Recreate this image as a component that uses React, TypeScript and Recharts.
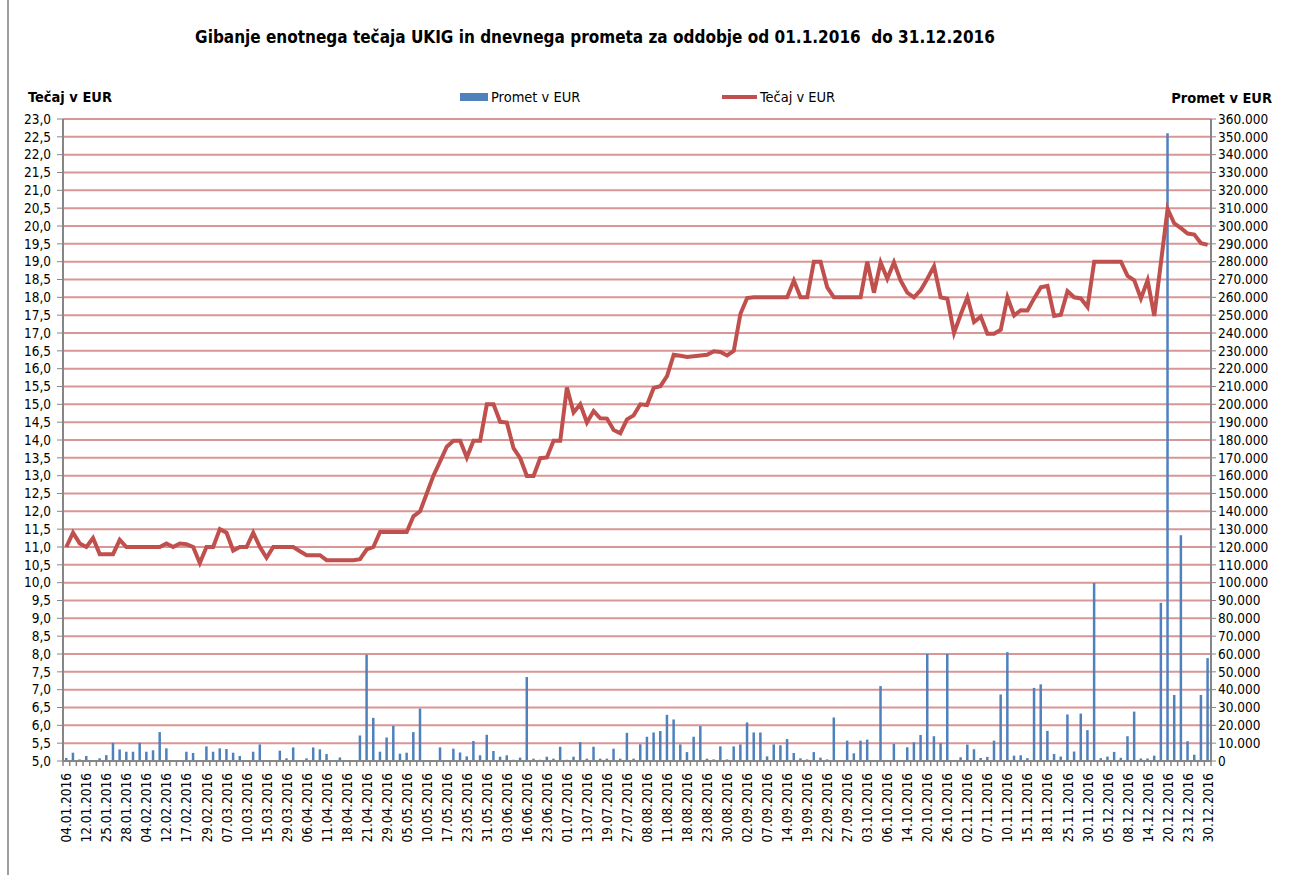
import React from 'react';
import { ComposedChart, Bar, Line, XAxis, YAxis, CartesianGrid } from 'recharts';

// tick labels on the category axis (every third trading day)
const dateLabels = [
  '04.01.2016', '12.01.2016', '25.01.2016', '28.01.2016', '04.02.2016', '12.02.2016',
  '17.02.2016', '29.02.2016', '07.03.2016', '10.03.2016', '15.03.2016', '29.03.2016',
  '06.04.2016', '11.04.2016', '18.04.2016', '21.04.2016', '29.04.2016', '05.05.2016',
  '10.05.2016', '17.05.2016', '23.05.2016', '31.05.2016', '03.06.2016', '16.06.2016',
  '23.06.2016', '01.07.2016', '13.07.2016', '19.07.2016', '27.07.2016', '08.08.2016',
  '11.08.2016', '18.08.2016', '23.08.2016', '30.08.2016', '02.09.2016', '07.09.2016',
  '14.09.2016', '19.09.2016', '22.09.2016', '27.09.2016', '03.10.2016', '06.10.2016',
  '14.10.2016', '20.10.2016', '26.10.2016', '02.11.2016', '07.11.2016', '10.11.2016',
  '15.11.2016', '18.11.2016', '25.11.2016', '30.11.2016', '05.12.2016', '08.12.2016',
  '14.12.2016', '20.12.2016', '23.12.2016', '30.12.2016',
];

// Tečaj v EUR, one value per trading day
const tecaj = [
  11.0, 11.4, 11.1, 11.0, 11.25, 10.8, 10.8, 10.8, 11.2, 11.0,
  11.0, 11.0, 11.0, 11.0, 11.0, 11.1, 11.0, 11.1, 11.08, 11.0,
  10.55, 11.0, 11.0, 11.5, 11.4, 10.9, 11.0, 11.0, 11.4, 11.0,
  10.7, 11.0, 11.0, 11.0, 11.0, 10.88, 10.77, 10.77, 10.77, 10.63,
  10.63, 10.63, 10.63, 10.63, 10.66, 10.93, 11.0, 11.42, 11.42, 11.42,
  11.42, 11.42, 11.86, 12.0, 12.5, 13.0, 13.4, 13.81, 13.98, 13.98,
  13.51, 13.98, 13.98, 15.0, 15.0, 14.51, 14.49, 13.77, 13.49, 12.99,
  12.99, 13.49, 13.51, 13.98, 13.98, 15.47, 14.77, 15.0, 14.49, 14.81,
  14.61, 14.6, 14.28, 14.19, 14.58, 14.69, 15.0, 14.98, 15.46, 15.51,
  15.79, 16.39, 16.36, 16.33, 16.35, 16.37, 16.39, 16.49, 16.47, 16.37,
  16.5, 17.54, 17.98, 18.0, 18.0, 18.0, 18.0, 18.0, 18.0, 18.47,
  18.0, 18.0, 19.0, 19.0, 18.28, 18.0, 18.0, 18.0, 18.0, 18.0,
  19.0, 18.13, 18.98, 18.52, 18.98, 18.47, 18.13, 18.0, 18.2, 18.52,
  18.87, 18.0, 17.96, 17.0, 17.52, 18.0, 17.31, 17.46, 16.98, 16.98,
  17.09, 18.0, 17.49, 17.64, 17.63, 17.97, 18.28, 18.32, 17.48, 17.51,
  18.17, 18.0, 17.97, 17.73, 19.0, 19.0, 19.0, 19.0, 19.0, 18.6,
  18.48, 17.97, 18.48, 17.48, 18.98, 20.48, 20.07, 19.94, 19.79, 19.76,
  19.52, 19.47,
];

// Promet v EUR, one value per trading day
const promet = [
  1700, 4650, 900, 2800, 400, 1500, 3300, 10200, 6500, 5200,
  5200, 10200, 5200, 6000, 16200, 7100, 400, 400, 5200, 4500,
  400, 8200, 5200, 7100, 6700, 4650, 2800, 400, 5200, 9300,
  400, 400, 5800, 1500, 7600, 400, 1500, 7600, 6500, 3900,
  400, 2000, 400, 400, 14300, 59600, 24200, 5200, 13200, 19700,
  4100, 4650, 16200, 29400, 400, 400, 7600, 400, 6900, 4800,
  2600, 11200, 3200, 14700, 5600, 2400, 3200, 700, 1900, 47100,
  1300, 700, 2400, 1300, 8000, 700, 2400, 10600, 1300, 8000,
  1300, 1300, 6900, 1300, 15800, 1300, 9400, 13600, 16000, 16800,
  25900, 23300, 9300, 5000, 13600, 19600, 1300, 900, 8200, 900,
  8200, 9300, 21600, 16000, 16000, 2600, 9300, 8800, 12300, 4500,
  1500, 900, 5000, 1900, 900, 24400, 600, 11400, 4300, 11400,
  12000, 600, 42000, 600, 9600, 600, 7700, 10500, 14600, 60000,
  13900, 9900, 60000, 600, 2100, 9200, 6600, 1700, 2300, 11400,
  37300, 61000, 3000, 3200, 1600, 41000, 43000, 16900, 3900, 2500,
  26100, 5300, 26600, 17300, 99800, 1600, 2500, 5100, 1800, 13900,
  27700, 1400, 1400, 3000, 88700, 352000, 37000, 126600, 11100, 3500,
  37000, 57700,
];

const leftTicks = Array.from({ length: 37 }, (_, i) => 5 + i * 0.5);
const rightTicks = Array.from({ length: 37 }, (_, i) => i * 10000);

const data = tecaj.map((v, i) => ({ idx: i, tecaj: v, promet: promet[i] }));

const FONT = "'DejaVu Sans Condensed', 'DejaVu Sans', sans-serif";
const W = 1298;
const H = 875;
const PLOT_LEFT = 63;
const PLOT_RIGHT = 1211;
const band = (PLOT_RIGHT - PLOT_LEFT) / data.length;

const fmtLeft = (v: number) => v.toFixed(1).replace('.', ',');
const fmtRight = (v: number) => (v === 0 ? '0' : String(v).replace(/\B(?=(\d{3})+(?!\d))/g, '.'));

const DateTick = (props: any) => {
  const { x, y, payload } = props;
  const i = payload.value as number;
  const showLabel = i % 3 === 0;
  return (
    <g>
      <line x1={x - band / 2} x2={x - band / 2} y1={y - 8} y2={y - 3} stroke="#868686" strokeWidth={1.5} />
      {i === data.length - 1 && (
        <line x1={x + band / 2} x2={x + band / 2} y1={y - 8} y2={y - 3} stroke="#868686" strokeWidth={1.5} />
      )}
      {showLabel && (
        <text
          transform={`translate(${x},${y + 4}) rotate(-90)`}
          textAnchor="end"
          dominantBaseline="central"
          fontSize={13.5}
          fontFamily={FONT}
          fill="#000"
        >
          {dateLabels[i / 3]}
        </text>
      )}
    </g>
  );
};

const App: React.FC = () => {
  return (
    <div style={{ position: 'absolute', left: 0, top: 0, width: W, height: H, background: '#fff', fontFamily: FONT }}>
      <div style={{ position: 'absolute', left: 7, top: 0, width: 2, height: H, background: '#a0a0a0' }} />
      <div
        style={{
          position: 'absolute', left: 0, width: 1190, top: 26, textAlign: 'center',
          fontWeight: 'bold', fontSize: 17, whiteSpace: 'pre', lineHeight: '22px',
        }}
      >
        {'Gibanje enotnega tečaja UKIG in dnevnega prometa za oddobje od 01.1.2016  do 31.12.2016'}
      </div>
      <div style={{ position: 'absolute', left: 28, top: 89, fontWeight: 'bold', fontSize: 14.5, lineHeight: '17px' }}>
        Tečaj v EUR
      </div>
      <div style={{ position: 'absolute', right: 26, top: 90, fontWeight: 'bold', fontSize: 14.5, lineHeight: '17px' }}>
        Promet v EUR
      </div>
      <div style={{ position: 'absolute', left: 460, top: 93, width: 28, height: 8, background: '#4F81BD' }} />
      <div style={{ position: 'absolute', left: 491, top: 89, fontSize: 14.5, lineHeight: '17px' }}>Promet v EUR</div>
      <div style={{ position: 'absolute', left: 722, top: 95, width: 35, height: 4, background: '#C0504D' }} />
      <div style={{ position: 'absolute', left: 760, top: 89, fontSize: 14.5, lineHeight: '17px' }}>Tečaj v EUR</div>

      <div style={{ position: 'absolute', left: 0, top: 0 }}>
        <ComposedChart width={W} height={H} data={data} margin={{ top: 119, right: 0, bottom: 0, left: 0 }}>
          <CartesianGrid yAxisId="left" vertical={false} stroke="#D99694" strokeWidth={2} horizontalValues={leftTicks} />
          <XAxis
            dataKey="idx"
            type="category"
            interval={0}
            height={114}
            tick={<DateTick />}
            tickLine={false}
            axisLine={{ stroke: '#868686', strokeWidth: 2 }}
          />
          <YAxis
            yAxisId="left"
            orientation="left"
            width={63}
            domain={[5, 23]}
            ticks={leftTicks}
            interval={0}
            tickFormatter={fmtLeft}
            tick={{ fill: '#000', fontSize: 13.5, fontFamily: FONT }}
            tickSize={6}
            tickMargin={6}
            tickLine={{ stroke: '#868686' }}
            axisLine={{ stroke: '#868686', strokeWidth: 2 }}
          />
          <YAxis
            yAxisId="right"
            orientation="right"
            width={87}
            domain={[0, 360000]}
            ticks={rightTicks}
            interval={0}
            tickFormatter={fmtRight}
            tick={{ fill: '#000', fontSize: 13.5, fontFamily: FONT }}
            tickSize={5}
            tickMargin={2}
            tickLine={{ stroke: '#868686' }}
            axisLine={{ stroke: '#868686', strokeWidth: 2 }}
          />
          <Bar yAxisId="right" dataKey="promet" fill="#4F81BD" barSize={2.5} isAnimationActive={false} />
          <Line
            yAxisId="left"
            type="linear"
            dataKey="tecaj"
            stroke="#C0504D"
            strokeWidth={4}
            dot={false}
            isAnimationActive={false}
          />
        </ComposedChart>
      </div>
    </div>
  );
};

export default App;
